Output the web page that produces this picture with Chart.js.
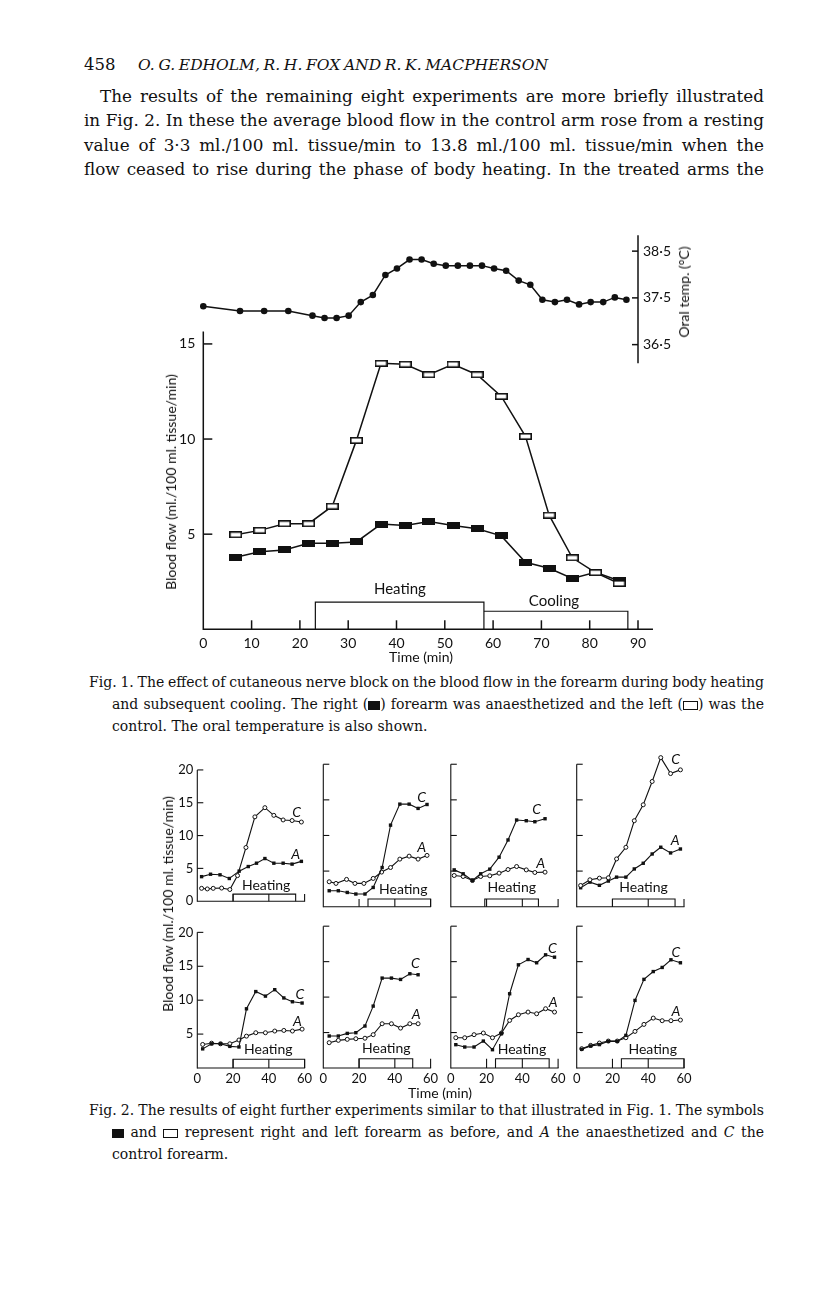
<!DOCTYPE html>
<html><head><meta charset="utf-8">
<script src="https://cdn.jsdelivr.net/npm/chart.js@4.4.0/dist/chart.umd.min.js"></script>
<style>
html,body{margin:0;padding:0;background:#fff;}
body{width:816px;height:1296px;position:relative;overflow:hidden;color:#111;}
.t{position:absolute;white-space:nowrap;font-family:"DejaVu Serif",serif;color:#111;}
.body{font-size:16.8px;line-height:20px;}
.cap{font-size:14px;line-height:18px;}
.hd{font-size:15.5px;line-height:20px;}
.sans{position:absolute;white-space:nowrap;font-family:Lato,"Open Sans",sans-serif;color:#111;line-height:1;}
.rot{transform:translate(-50%,-50%) rotate(-90deg);}
.ctr{transform:translate(-50%,-50%);}
canvas{position:absolute;}
.sq{display:inline-block;width:12px;height:9px;background:#111;vertical-align:-1px;}
.osq{display:inline-block;width:13px;height:7px;border:1.4px solid #111;vertical-align:-1px;}
</style></head>
<body>
<div class="t hd" style="left:84px;top:55px;font-size:16.5px;">458</div>
<div class="t hd jl" data-w="410" style="left:138px;top:55px;font-style:italic;">O. G. EDHOLM, R. H. FOX AND R. K. MACPHERSON</div>

<div class="t body jl" data-w="664" style="left:100px;top:86px;">The results of the remaining eight experiments are more briefly illustrated</div>
<div class="t body jl" data-w="680" style="left:84px;top:110px;">in Fig. 2. In these the average blood flow in the control arm rose from a resting</div>
<div class="t body jl" data-w="680" style="left:84px;top:135px;">value of 3·3 ml./100 ml. tissue/min to 13.8 ml./100 ml. tissue/min when the</div>
<div class="t body jl" data-w="680" style="left:84px;top:159px;">flow ceased to rise during the phase of body heating. In the treated arms the</div>

<canvas id="fig1" width="580" height="452" style="left:140px;top:218px;width:580px;height:452px;"></canvas>
<div class="sans ctr" style="left:421px;top:657px;font-size:14px;">Time (min)</div>
<div class="sans rot" style="left:171px;top:482px;font-size:14px;">Blood flow (ml./100 ml. tissue/min)</div>
<div class="sans rot" style="left:684px;top:292px;font-size:14px;">Oral temp. (°C)</div>

<div class="t cap jl" data-w="675" style="left:89px;top:673px;">Fig. 1. The effect of cutaneous nerve block on the blood flow in the forearm during body heating</div>
<div class="t cap jl" data-w="652" style="left:112px;top:695px;">and subsequent cooling. The right (<span class="sq"></span>) forearm was anaesthetized and the left (<span class="osq"></span>) was the</div>
<div class="t cap" style="left:112px;top:717px;">control. The oral temperature is also shown.</div>

<div id="fig2"></div>
<div class="sans ctr" style="left:440px;top:1093px;font-size:14px;">Time (min)</div>
<div class="sans rot" style="left:168px;top:904px;font-size:14px;">Blood flow (ml./100 ml. tissue/min)</div>

<div class="t cap jl" data-w="675" style="left:89px;top:1101px;">Fig. 2. The results of eight further experiments similar to that illustrated in Fig. 1. The symbols</div>
<div class="t cap jl" data-w="652" style="left:112px;top:1123px;"><span class="sq"></span> and <span class="osq"></span> represent right and left forearm as before, and <i>A</i> the anaesthetized and <i>C</i> the</div>
<div class="t cap" style="left:112px;top:1145px;">control forearm.</div>

<script>
// ---------------- Fig. 1 data ----------------
const fig1Time = [6.7,11.7,16.8,21.8,26.7,31.7,36.8,41.8,46.7,51.7,56.7,61.7,66.7,71.6,76.4,81.2,86.1];
const fig1Control = [4.97,5.2,5.55,5.55,6.47,9.93,13.98,13.93,13.38,13.93,13.38,12.24,10.14,6.0,3.76,2.98,2.41];
const fig1Anaesth = [3.79,4.07,4.17,4.52,4.52,4.59,5.53,5.45,5.66,5.45,5.28,4.91,3.52,3.21,2.67,3.0,2.55];
const tempTime = [0,7.6,12.6,17.6,22.6,25.1,27.6,30.1,32.6,35.1,37.7,40.1,42.7,45.2,47.7,50.2,52.7,55.2,57.7,60.2,62.7,65.3,67.7,70.2,72.8,75.3,77.8,80.2,82.8,85.2,87.6];
const tempValues = [37.32,37.22,37.22,37.22,37.12,37.07,37.07,37.12,37.41,37.56,37.99,38.13,38.32,38.32,38.23,38.19,38.19,38.19,38.19,38.13,38.08,37.87,37.78,37.46,37.41,37.46,37.36,37.41,37.41,37.51,37.46];
const fig1XTicks = [0,10,20,30,40,50,60,70,80,90];
const fig1YTicks = [5,10,15];
const tempTicks = [36.5,37.5,38.5];
const heatingPeriod = [23.2,58.1];
const coolingPeriod = [58.1,87.9];
const heatingBarHeight = 1.43;
const coolingBarHeight = 0.95;

// ---------------- Fig. 2 data (8 experiments) ----------------
const t1C = [2.4,5.6,8.9,13.6,18.2,22.5,27.2,32.2,37.8,42.8,48,53,58.2];
const c1 = [1.96,1.87,1.96,2.0,1.78,3.9,8.18,12.85,14.25,13.08,12.38,12.29,12.06];
const t1A = [2.4,7.4,12.7,17.9,23.4,28.5,33.1,37.8,42.8,48,53,58.2];
const a1 = [3.74,4.11,4.02,3.46,4.58,5.28,5.79,6.5,5.79,5.79,5.65,6.07];

const t2C = [3.3,8.4,13.4,18.2,23.3,27.9,32.9,37.6,42.8,48,53,58];
const c2 = [2.24,2.24,2.0,1.78,1.78,2.7,5.5,11.45,14.4,14.4,13.8,14.35];
const t2A = [3.3,7.1,13,17.7,22.7,27.9,32.6,37.6,42.8,48,53,58];
const a2 = [3.5,3.27,3.83,3.27,3.27,3.97,4.86,5.5,6.68,7.1,6.68,7.2];

const t3 = [1.9,6.9,12.1,16.7,21.8,27,32,36.8,42.2,47,52.7];
const c3 = [5.17,4.62,3.68,4.62,5.27,6.95,9.37,12.17,12.07,11.93,12.35];
const a3 = [4.38,4.24,3.68,4.24,4.34,4.71,5.22,5.64,5.17,4.8,4.85];

const t4 = [2.2,7.4,12.7,17.7,22.3,27.5,32.2,37.2,42.2,47,52.5,58];
const c4 = [2.98,3.78,4.01,4.06,6.71,8.34,12.07,14.31,17.58,20.93,18.69,19.21];
const a4 = [2.66,3.45,3.0,3.6,4.15,4.15,5.3,6.1,7.4,8.35,7.55,8.1];

const t5 = [3,8,13,18.2,23.3,27.5,32.7,38.1,43.3,48.4,53.2,58.6];
const c5 = [2.82,3.57,3.57,3.19,3.1,8.73,11.27,10.6,11.55,10.33,9.77,9.58];
const a5 = [3.47,3.66,3.57,3.57,4.13,4.7,5.2,5.2,5.45,5.54,5.45,5.73];

const t6 = [3.3,8.4,13.4,18.2,23.3,27.9,32.9,38.1,43.2,48.4,53];
const c6 = [4.51,4.51,4.88,4.98,5.92,8.73,12.68,12.68,12.49,13.29,13.15];
const a6 = [3.57,3.9,4.04,4.13,4.2,4.7,6.24,6.24,5.63,6.24,6.24];

const t7 = [2.8,7.8,13,18.2,23.3,28.3,32.9,37.8,43.2,48,53,58];
const c7 = [3.29,2.96,2.96,3.8,2.58,4.84,10.47,14.55,15.3,14.84,15.96,15.63];
const a7 = [4.27,4.27,4.7,4.93,4.27,4.93,6.71,7.51,7.89,7.65,8.36,7.89];

const t8 = [2.8,7.8,12.7,17.7,22.7,27.5,32.6,37.6,42.8,47.8,52.7,58];
const c8 = [2.63,3.1,3.3,3.76,3.76,4.6,9.53,12.5,13.6,14.18,15.26,14.84];
const a8 = [2.72,3.19,3.52,3.8,3.8,4.27,5.16,6.15,7.04,6.67,6.67,6.76];

const heatStart2 = [20,25,19,20,20,20,25,25];
const heatEnd2 = [55,60,49,55,60,50,55,60];
const fig2XTicks = [0,20,40,60];
const fig2YTicks = [0,5,10,15,20];

// ---------------- helpers ----------------
const INK = '#111';
Chart.defaults.font.family = 'Lato, "Open Sans", sans-serif';
Chart.defaults.color = INK;
Chart.defaults.animation = false;

function xy(t, v) { return t.map((ti, i) => ({x: ti, y: v[i]})); }
function seg(ctx, x1, y1, x2, y2) { ctx.beginPath(); ctx.moveTo(x1, y1); ctx.lineTo(x2, y2); ctx.stroke(); }
function rectMarker(w, h, filled) {
  const c = document.createElement('canvas'); c.width = w; c.height = h;
  const g = c.getContext('2d');
  g.fillStyle = INK; g.fillRect(0, 0, w, h);
  if (!filled) { g.fillStyle = '#fff'; g.fillRect(1.6, 1.6, w - 3.2, h - 3.2); }
  return c;
}

// ---------------- Fig. 1 ----------------
const fig1Frame = {
  id: 'fig1Frame',
  afterDraw(chart) {
    const {ctx, scales: {x, y, yT}} = chart;
    ctx.save();
    ctx.strokeStyle = INK; ctx.lineWidth = 1.5;
    const x0 = x.getPixelForValue(0), y0 = y.getPixelForValue(0);
    seg(ctx, x0, y0 + 0.75, x0, y.getPixelForValue(15.65));
    fig1YTicks.forEach(v => { const py = y.getPixelForValue(v); seg(ctx, x0, py, x0 + 9, py); });
    seg(ctx, x0, y0, x.getPixelForValue(93.1), y0);
    fig1XTicks.slice(1).forEach(t => { const px = x.getPixelForValue(t); seg(ctx, px, y0, px, y0 - 9); });
    const xr = x.getPixelForValue(90);
    seg(ctx, xr, yT.getPixelForValue(38.84), xr, yT.getPixelForValue(36.1));
    tempTicks.forEach(v => { const py = yT.getPixelForValue(v); seg(ctx, xr - 6, py, xr, py); });
    ctx.fillStyle = INK; ctx.font = '15px Lato'; ctx.textAlign = 'center'; ctx.textBaseline = 'middle';
    ctx.fillText('Heating', x.getPixelForValue(40.7), y.getPixelForValue(2.1));
    ctx.fillText('Cooling', x.getPixelForValue(72.6), y.getPixelForValue(1.47));
    ctx.restore();
  }
};

const openRect = rectMarker(13, 7, false);
const fullRect = rectMarker(13, 7, true);

new Chart(document.getElementById('fig1'), {
  type: 'line',
  data: {
    datasets: [
      {label: 'Oral temperature', data: xy(tempTime, tempValues), yAxisID: 'yT',
        borderColor: INK, borderWidth: 1.5, pointStyle: 'circle', pointRadius: 3.3,
        pointBackgroundColor: INK, pointBorderWidth: 0, tension: 0, clip: false},
      {label: 'Left (control)', data: xy(fig1Time, fig1Control), yAxisID: 'y',
        borderColor: INK, borderWidth: 1.5, pointStyle: openRect, pointRadius: 4, tension: 0, clip: false},
      {label: 'Right (anaesthetized)', data: xy(fig1Time, fig1Anaesth), yAxisID: 'y',
        borderColor: INK, borderWidth: 1.5, pointStyle: fullRect, pointRadius: 4, tension: 0, clip: false},
      {label: 'Heating', data: [{x: heatingPeriod[0], y: 0}, {x: heatingPeriod[0], y: heatingBarHeight}, {x: heatingPeriod[1], y: heatingBarHeight}, {x: heatingPeriod[1], y: 0}],
        yAxisID: 'y', borderColor: INK, borderWidth: 1.2, pointRadius: 0, tension: 0, clip: false},
      {label: 'Cooling', data: [{x: coolingPeriod[0], y: coolingBarHeight}, {x: coolingPeriod[1], y: coolingBarHeight}, {x: coolingPeriod[1], y: 0}],
        yAxisID: 'y', borderColor: INK, borderWidth: 1.2, pointRadius: 0, tension: 0, clip: false}
    ]
  },
  options: {
    responsive: false, devicePixelRatio: 1, animation: false,
    layout: {padding: {top: 10, right: 0, bottom: 0, left: 0}},
    plugins: {legend: {display: false}, tooltip: {enabled: false}},
    scales: {
      x: {type: 'linear', min: 0, max: 90,
        afterBuildTicks: s => { s.ticks = fig1XTicks.map(v => ({value: v})); },
        afterFit: s => { s.height = 40.7; },
        grid: {display: false, drawTicks: false}, border: {display: false},
        ticks: {font: {size: 14}, padding: 6, maxRotation: 0, autoSkip: false, color: INK}},
      y: {type: 'linear', position: 'left', min: 0, max: 20.757,
        afterBuildTicks: s => { s.ticks = fig1YTicks.map(v => ({value: v})); },
        afterFit: s => { s.width = 63.3; },
        grid: {display: false, drawTicks: false}, border: {display: false},
        ticks: {font: {size: 14}, padding: 8, color: INK}},
      yT: {type: 'linear', position: 'right', min: 30.41, max: 38.858,
        afterBuildTicks: s => { s.ticks = tempTicks.map(v => ({value: v})); },
        afterFit: s => { s.width = 82; },
        grid: {display: false, drawTicks: false}, border: {display: false},
        ticks: {font: {size: 14}, padding: 5, color: INK, callback: v => v.toFixed(1).replace('.', '·')}}
    }
  },
  plugins: [fig1Frame]
});

// ---------------- Fig. 2 ----------------
const panelX0 = [197.3, 323.3, 450.8, 576.7];
const rowZero = [906.7, 1068];
const PXMIN = 107.3 / 60;
const PXUNIT = 7.135;
const YMAX = 22;

const fig2Panels = [
  {tC: t1C, c: c1, tA: t1A, a: a1, cFilled: false, cLab: [55.5, 13.45], aLab: [55, 7.1], hLab: [38.5, 2.45]},
  {tC: t2C, c: c2, tA: t2A, a: a2, cFilled: true, cLab: [55, 15.4], aLab: [55, 8.3], hLab: [44.7, 2.45]},
  {tC: t3, c: c3, tA: t3, a: a3, cFilled: true, cLab: [48, 13.6], aLab: [50.3, 6.1], hLab: [34.1, 2.66]},
  {tC: t4, c: c4, tA: t4, a: a4, cFilled: false, cLab: [55.3, 20.6], aLab: [55, 9.25], hLab: [37.4, 2.66]},
  {tC: t5, c: c5, tA: t5, a: a5, cFilled: true, cLab: [57.4, 10.9], aLab: [56, 6.87], hLab: [39.7, 2.76]},
  {tC: t6, c: c6, tA: t6, a: a6, cFilled: true, cLab: [51.5, 14.7], aLab: [51.9, 7.57], hLab: [35.2, 2.76]},
  {tC: t7, c: c7, tA: t7, a: a7, cFilled: true, cLab: [56.8, 16.9], aLab: [57.2, 9.3], hLab: [39.8, 2.6]},
  {tC: t8, c: c8, tA: t8, a: a8, cFilled: true, cLab: [55.5, 16.3], aLab: [55.5, 8.0], hLab: [42.5, 2.6]}
];

function markerStyle(filled) {
  return filled
    ? {pointStyle: 'rect', pointRadius: 2.4, pointBackgroundColor: INK, pointBorderColor: INK, pointBorderWidth: 0}
    : {pointStyle: 'circle', pointRadius: 2.0, pointBackgroundColor: '#fff', pointBorderColor: INK, pointBorderWidth: 1};
}

const fig2Frame = {
  id: 'fig2Frame',
  afterDraw(chart) {
    const cfg = chart.options.plugins.fig2Frame;
    const {ctx, scales: {x, y}} = chart;
    ctx.save();
    ctx.strokeStyle = INK; ctx.lineWidth = 1.1;
    const x0 = x.getPixelForValue(0), y0 = y.getPixelForValue(0);
    const y20 = y.getPixelForValue(20);
    seg(ctx, x0, y0 + 0.5, x0, y20);
    [5, 10, 15, 20].forEach(v => { const py = y.getPixelForValue(v); seg(ctx, x0, py, x0 + 6, py); });
    seg(ctx, x0, y0, x.getPixelForValue(60) + 0.5, y0);
    const th = y0 - y.getPixelForValue(cfg.barH);
    [20, 40, 60].forEach(t => { const px = x.getPixelForValue(t); seg(ctx, px, y0, px, y0 - th); });
    ctx.fillStyle = INK; ctx.textAlign = 'center'; ctx.textBaseline = 'middle';
    ctx.font = '14px Lato';
    ctx.fillText('Heating', x.getPixelForValue(cfg.hLab[0]), y.getPixelForValue(cfg.hLab[1]));
    ctx.font = 'italic 14px Lato';
    ctx.fillText('C', x.getPixelForValue(cfg.cLab[0]), y.getPixelForValue(cfg.cLab[1]));
    ctx.fillText('A', x.getPixelForValue(cfg.aLab[0]), y.getPixelForValue(cfg.aLab[1]));
    ctx.restore();
  }
};

const fig2Div = document.getElementById('fig2');
fig2Panels.forEach((p, i) => {
  const row = Math.floor(i / 4), col = i % 4;
  const x0 = panelX0[col];
  const cLeft = Math.floor(x0 - 36);
  const leftW = x0 - cLeft;
  const areaTop = rowZero[row] - YMAX * PXUNIT;
  const cTop = Math.floor(areaTop - 4);
  const padTop = areaTop - cTop;
  const xH = row === 0 ? 6 : 22;
  const H = Math.ceil(padTop + YMAX * PXUNIT + xH);
  const xHeight = H - padTop - YMAX * PXUNIT;
  const W = Math.round(leftW + 60 * PXMIN + 14);
  const rightPad = W - leftW - 60 * PXMIN;
  const cv = document.createElement('canvas');
  cv.width = W; cv.height = H;
  cv.style.left = cLeft + 'px'; cv.style.top = cTop + 'px';
  cv.style.width = W + 'px'; cv.style.height = H + 'px';
  fig2Div.appendChild(cv);
  const barH = row === 0 ? 1.08 : 1.3;
  const yTickVals = col === 0 ? (row === 0 ? fig2YTicks : fig2YTicks.slice(1)) : [];
  new Chart(cv, {
    type: 'line',
    data: {datasets: [
      Object.assign({label: 'C', data: xy(p.tC, p.c), borderColor: INK, borderWidth: 1.1, tension: 0, clip: false}, markerStyle(p.cFilled)),
      Object.assign({label: 'A', data: xy(p.tA, p.a), borderColor: INK, borderWidth: 1.1, tension: 0, clip: false}, markerStyle(!p.cFilled)),
      {label: 'Heating', data: [{x: heatStart2[i], y: 0}, {x: heatStart2[i], y: barH}, {x: heatEnd2[i], y: barH}, {x: heatEnd2[i], y: 0}],
        borderColor: INK, borderWidth: 1.1, pointRadius: 0, tension: 0, clip: false}
    ]},
    options: {
      responsive: false, devicePixelRatio: 1, animation: false,
      layout: {padding: {top: padTop, right: rightPad, bottom: 0, left: 0}},
      plugins: {legend: {display: false}, tooltip: {enabled: false},
        fig2Frame: {barH: barH, hLab: p.hLab, cLab: p.cLab, aLab: p.aLab}},
      scales: {
        x: {type: 'linear', min: 0, max: 60,
          afterBuildTicks: s => { s.ticks = fig2XTicks.map(v => ({value: v})); },
          afterFit: s => { s.height = xHeight; },
          grid: {display: false, drawTicks: false}, border: {display: false},
          ticks: {display: row === 1, font: {size: 13}, padding: 3, maxRotation: 0, autoSkip: false, color: INK}},
        y: {type: 'linear', min: 0, max: YMAX,
          afterBuildTicks: s => { s.ticks = yTickVals.map(v => ({value: v})); },
          afterFit: s => { s.width = leftW; },
          grid: {display: false, drawTicks: false}, border: {display: false},
          ticks: {display: col === 0, font: {size: 13}, padding: 4, color: INK}}
      }
    },
    plugins: [fig2Frame]
  });
});

// ---------------- justify text lines ----------------
document.querySelectorAll('.jl').forEach(el => {
  const target = parseFloat(el.dataset.w);
  el.style.wordSpacing = '0px';
  const nat = el.getBoundingClientRect().width;
  const spaces = (el.textContent.match(/ /g) || []).length;
  if (spaces > 0) el.style.wordSpacing = ((target - nat) / spaces) + 'px';
});
</script>
</body></html>
